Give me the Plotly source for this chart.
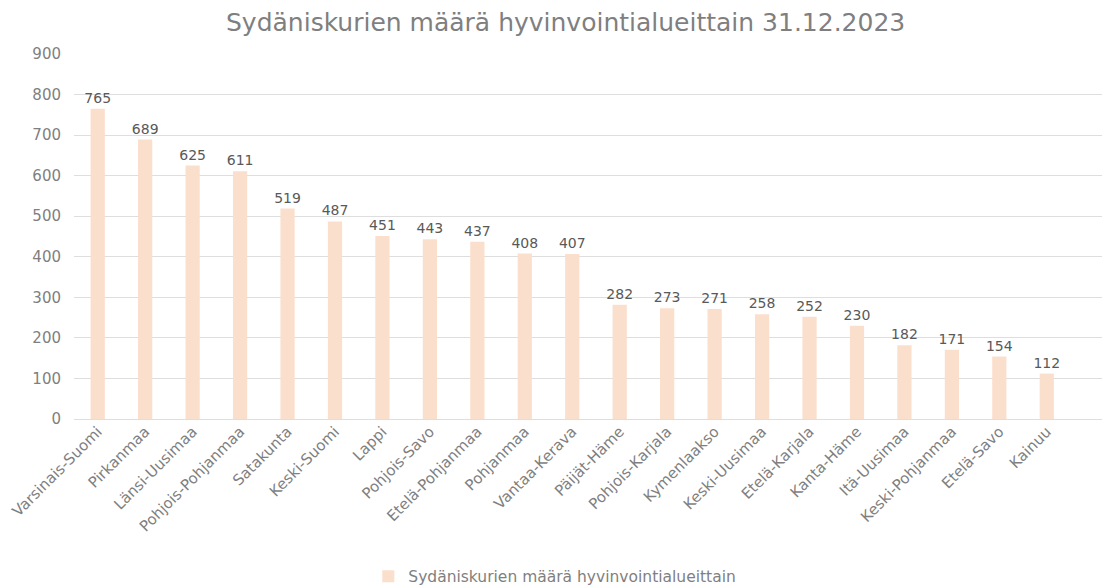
import plotly.graph_objects as go

regions = ["Varsinais-Suomi", "Pirkanmaa", "Länsi-Uusimaa", "Pohjois-Pohjanmaa", "Satakunta",
           "Keski-Suomi", "Lappi", "Pohjois-Savo", "Etelä-Pohjanmaa", "Pohjanmaa", "Vantaa-Kerava",
           "Päijät-Häme", "Pohjois-Karjala", "Kymenlaakso", "Keski-Uusimaa", "Etelä-Karjala",
           "Kanta-Häme", "Itä-Uusimaa", "Keski-Pohjanmaa", "Etelä-Savo", "Kainuu"]
counts = [765, 689, 625, 611, 519, 487, 451, 443, 437, 408, 407,
          282, 273, 271, 258, 252, 230, 182, 171, 154, 112]
yticks = [0, 100, 200, 300, 400, 500, 600, 700, 800, 900]
series_name = "Sydäniskurien määrä hyvinvointialueittain"
title_text = "Sydäniskurien määrä hyvinvointialueittain 31.12.2023"

FONT = "DejaVu Sans"

fig = go.Figure()
fig.add_trace(go.Bar(
    x=list(range(len(regions))), y=counts, name=series_name,
    marker=dict(color="#FBDFCD", line=dict(width=0)),
    text=[str(v) for v in counts], textposition="outside", constraintext="none",
    textfont=dict(family=FONT, size=14, color="#595959"),
    cliponaxis=False, showlegend=True,
))

fig.update_layout(
    width=1102, height=578,
    paper_bgcolor="white", plot_bgcolor="white",
    margin=dict(l=66, r=2, t=46, b=167),
    bargap=0.7,
    title=dict(text=title_text, x=0.506, xanchor="center", y=0.976, yanchor="middle",
               font=dict(family=FONT, size=25, color="#7F7F7F")),
    font=dict(family=FONT, color="#7F7F7F"),
    xaxis=dict(
        tickmode="array", tickvals=list(range(len(regions))), ticktext=regions,
        tickangle=-45, tickfont=dict(family=FONT, size=15, color="#7F7F7F"),
        range=[-0.5, 21.29], showgrid=False, showline=False, zeroline=False, ticks="",
    ),
    yaxis=dict(
        range=[0, 900], tickmode="array", tickvals=yticks,
        tickfont=dict(family=FONT, size=15, color="#7F7F7F"),
        showgrid=True, gridcolor="#DEDEDE", gridwidth=1,
        zeroline=True, zerolinecolor="#DEDEDE", zerolinewidth=1,
        showline=False, ticks="", ticklabelstandoff=12,
    ),
    legend=dict(orientation="h", x=0.465, xanchor="center", yref="container", y=0.016,
                yanchor="middle", font=dict(family=FONT, size=15.5, color="#7F7F7F"),
                itemwidth=30),
)

fig.write_html("out.html")
